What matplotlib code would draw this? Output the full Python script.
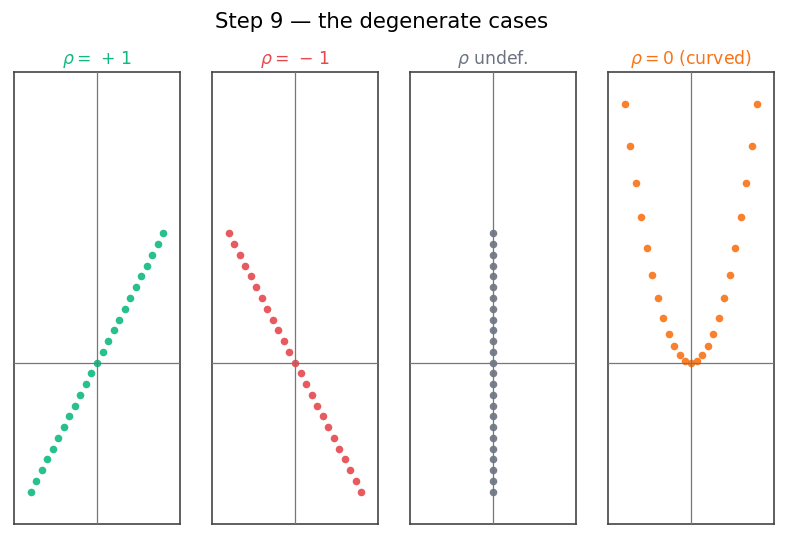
import matplotlib
matplotlib.use("Agg")
import matplotlib.pyplot as plt

# data
x_vals = [-1.0, -0.917, -0.833, -0.75, -0.667, -0.583, -0.5, -0.417, -0.333, -0.25,
          -0.167, -0.083, 0.0, 0.083, 0.167, 0.25, 0.333, 0.417, 0.5, 0.583,
          0.667, 0.75, 0.833, 0.917, 1.0]
y_pos = [-1.0, -0.917, -0.833, -0.75, -0.667, -0.583, -0.5, -0.417, -0.333, -0.25,
         -0.167, -0.083, 0.0, 0.083, 0.167, 0.25, 0.333, 0.417, 0.5, 0.583,
         0.667, 0.75, 0.833, 0.917, 1.0]
y_neg = [1.0, 0.917, 0.833, 0.75, 0.667, 0.583, 0.5, 0.417, 0.333, 0.25,
         0.167, 0.083, 0.0, -0.083, -0.167, -0.25, -0.333, -0.417, -0.5, -0.583,
         -0.667, -0.75, -0.833, -0.917, -1.0]
x_const = [0.0] * 25
y_vert = [-1.0, -0.917, -0.833, -0.75, -0.667, -0.583, -0.5, -0.417, -0.333, -0.25,
          -0.167, -0.083, 0.0, 0.083, 0.167, 0.25, 0.333, 0.417, 0.5, 0.583,
          0.667, 0.75, 0.833, 0.917, 1.0]
y_curve = [2.0, 1.68, 1.39, 1.125, 0.889, 0.681, 0.5, 0.347, 0.222, 0.125,
           0.056, 0.014, 0.0, 0.014, 0.056, 0.125, 0.222, 0.347, 0.5, 0.681,
           0.889, 1.125, 1.39, 1.68, 2.0]

titles = [r"$\rho =\,+\,1$", r"$\rho =\,-\,1$", r"$\rho$ undef.", r"$\rho = 0$ (curved)"]
colors = ["#10b981", "#e5484d", "#6b7280", "#f97316"]
series = [(x_vals, y_pos), (x_vals, y_neg), (x_const, y_vert), (x_vals, y_curve)]

fig = plt.figure(figsize=(7.87, 5.39), dpi=100)
fig.suptitle("Step 9 — the degenerate cases", fontsize=15.3, x=0.485, y=0.959, va="center")

lefts = [14, 212, 410, 608]
for i, (xs, ys) in enumerate(series):
    ax = fig.add_axes([lefts[i] / 787, 15 / 539, 166 / 787, 452 / 539])
    ax.scatter(xs, ys, s=30, color=colors[i], alpha=0.9, linewidths=0, zorder=2)
    ax.axhline(0, color="#777777", lw=0.9, zorder=3)
    ax.axvline(0, color="#777777", lw=0.9, zorder=3)
    ax.set_xlim(-1.25, 1.25)
    ax.set_ylim(-1.25, 2.25)
    ax.set_xticks([])
    ax.set_yticks([])
    for sp in ax.spines.values():
        sp.set_color("#444444")
        sp.set_linewidth(1.2)
    ax.set_title(titles[i], color=colors[i], fontsize=12.4, pad=6)

fig.savefig("out.png", dpi=100)
